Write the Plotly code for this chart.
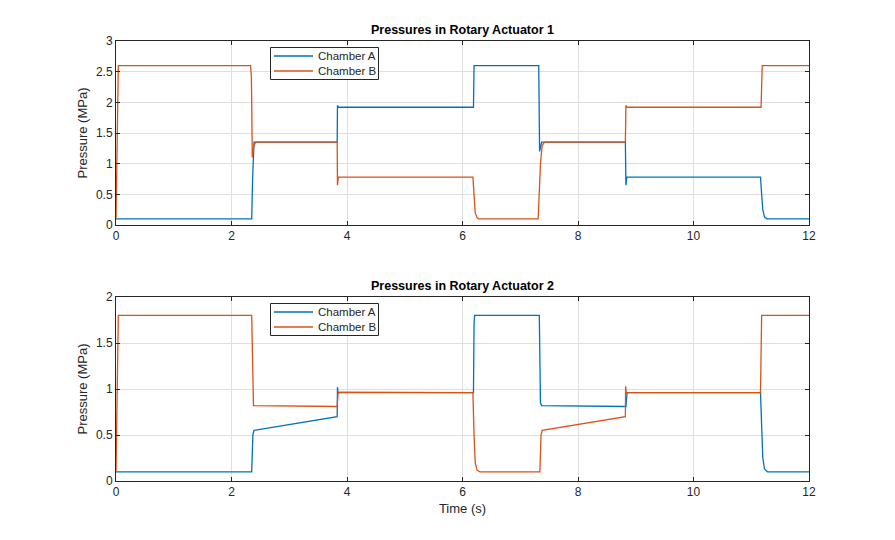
import plotly.graph_objects as go

# ---- data ----
t_a1 = [0, 2.35, 2.365, 2.39, 3.83, 3.835, 3.85, 6.19, 6.20, 7.32, 7.335, 7.35, 7.37,
        8.82, 8.83, 8.845, 11.16, 11.18, 11.20, 11.23, 11.27, 12]
p_a1 = [0.1, 0.1, 0.75, 1.35, 1.35, 1.95, 1.92, 1.92, 2.6, 2.6, 1.2, 1.3, 1.35,
        1.35, 0.65, 0.78, 0.78, 0.5, 0.25, 0.13, 0.1, 0.1]

t_b1 = [0, 0.02, 0.04, 2.33, 2.345, 2.36, 2.39, 2.42, 3.83, 3.835, 3.85, 6.18, 6.20,
        6.22, 6.25, 6.28, 7.31, 7.33, 7.35, 7.38, 7.42, 8.82, 8.83, 8.845, 11.17, 11.19, 12]
p_b1 = [0.1, 1.2, 2.6, 2.6, 2.4, 1.1, 1.3, 1.35, 1.35, 0.65, 0.78, 0.78, 0.5,
        0.2, 0.12, 0.1, 0.1, 0.5, 1.0, 1.3, 1.35, 1.35, 1.95, 1.92, 1.92, 2.6, 2.6]

t_a2 = [0, 2.35, 2.37, 2.39, 3.83, 3.835, 3.845, 3.86, 6.19, 6.20, 6.21, 7.33, 7.35,
        7.37, 8.83, 8.85, 11.16, 11.18, 11.20, 11.23, 11.28, 12]
p_a2 = [0.1, 0.1, 0.5, 0.55, 0.7, 1.02, 0.95, 0.96, 0.96, 1.7, 1.8, 1.8, 0.85,
        0.82, 0.81, 0.96, 0.96, 0.6, 0.25, 0.13, 0.1, 0.1]

t_b2 = [0, 0.02, 0.04, 2.35, 2.365, 2.38, 3.83, 3.845, 3.86, 6.18, 6.20, 6.22, 6.25,
        6.3, 7.34, 7.36, 7.38, 8.82, 8.825, 8.835, 8.85, 11.16, 11.18, 12]
p_b2 = [0.1, 1.0, 1.8, 1.8, 1.0, 0.82, 0.81, 0.95, 0.965, 0.96, 0.5, 0.2, 0.12,
        0.1, 0.1, 0.5, 0.55, 0.7, 1.03, 0.95, 0.96, 0.96, 1.8, 1.8]

series_names = ["Chamber A", "Chamber B"]
titles = ["Pressures in Rotary Actuator 1", "Pressures in Rotary Actuator 2"]
x_ticks = [0, 2, 4, 6, 8, 10, 12]
y_ticks_1 = [0, 0.5, 1, 1.5, 2, 2.5, 3]
y_ticks_2 = [0, 0.5, 1, 1.5, 2]

BLUE = "#0072BD"
ORANGE = "#D95319"
AX = "#262626"
FONT = "Liberation Sans, Arial, Helvetica, sans-serif"
COLORS = [BLUE, ORANGE]

# plot-area geometry in pixels
W, H = 895, 540
L, R, T, B = 116, 809, 41, 481
PW, PH = R - L, B - T
SUB_OFFSET = 256  # vertical distance between the two subplots (px)


def px_x(x):
    return (x - L) / PW


def px_y(y):
    return (B - y) / PH


fig = go.Figure()
fig.add_trace(go.Scatter(x=t_a1, y=p_a1, name=series_names[0], mode="lines",
                         line=dict(color=BLUE, width=1.3), xaxis="x", yaxis="y"))
fig.add_trace(go.Scatter(x=t_b1, y=p_b1, name=series_names[1], mode="lines",
                         line=dict(color=ORANGE, width=1.3), xaxis="x", yaxis="y"))
fig.add_trace(go.Scatter(x=t_a2, y=p_a2, name=series_names[0], mode="lines",
                         line=dict(color=BLUE, width=1.3), xaxis="x2", yaxis="y2"))
fig.add_trace(go.Scatter(x=t_b2, y=p_b2, name=series_names[1], mode="lines",
                         line=dict(color=ORANGE, width=1.3), xaxis="x2", yaxis="y2"))

ydom1 = [px_y(225), px_y(41)]
ydom2 = [px_y(481), px_y(297)]

common = dict(showline=True, mirror="ticks", linecolor=AX, linewidth=1, ticks="inside",
              ticklen=4, tickcolor=AX, showgrid=True, gridcolor="#DFDFDF", gridwidth=1,
              zeroline=False, automargin=False, tickfont=dict(size=12, color=AX, family=FONT))

# ---- legends (box + line samples + labels), one per subplot ----
shapes = []
annotations = []
for k in range(2):
    off = k * SUB_OFFSET
    shapes.append(dict(type="rect", xref="paper", yref="paper",
                       x0=px_x(270.5), x1=px_x(378.5), y0=px_y(79.5 + off), y1=px_y(47.5 + off),
                       line=dict(color=AX, width=1), fillcolor="white", layer="above"))
    for i, name in enumerate(series_names):
        yy = 56 + i * 15 + off
        shapes.append(dict(type="line", xref="paper", yref="paper",
                           x0=px_x(274), x1=px_x(313), y0=px_y(yy), y1=px_y(yy),
                           line=dict(color=COLORS[i], width=1.3), layer="above"))
        annotations.append(dict(text=name, x=px_x(316), y=px_y(yy), xref="paper", yref="paper",
                                xanchor="left", yanchor="middle", showarrow=False,
                                font=dict(size=11.5, color=AX)))
    annotations.append(dict(text="<b>" + titles[k] + "</b>", x=0.5, y=px_y(29.5 + off),
                            xref="paper", yref="paper", xanchor="center", yanchor="middle",
                            showarrow=False, font=dict(size=12.5, color="black")))

fig.update_layout(
    width=W, height=H,
    margin=dict(l=L, r=W - R, t=T, b=H - B, autoexpand=False),
    paper_bgcolor="white", plot_bgcolor="white",
    font=dict(family=FONT, color=AX),
    showlegend=False,
    xaxis=dict(domain=[0, 1], anchor="y", range=[0, 12], tickvals=x_ticks, **common),
    yaxis=dict(domain=ydom1, anchor="x", range=[0, 3], tickvals=y_ticks_1,
               title=dict(text="Pressure (MPa)", font=dict(size=13), standoff=5), **common),
    xaxis2=dict(domain=[0, 1], anchor="y2", range=[0, 12], tickvals=x_ticks,
                title=dict(text="Time (s)", font=dict(size=13), standoff=5), **common),
    yaxis2=dict(domain=ydom2, anchor="x2", range=[0, 2], tickvals=y_ticks_2,
                title=dict(text="Pressure (MPa)", font=dict(size=13), standoff=5), **common),
    shapes=shapes,
    annotations=annotations,
)

fig.write_html("out.html", config={"displayModeBar": False},
               post_script="document.body.style.margin='0';document.body.style.padding='0';")
